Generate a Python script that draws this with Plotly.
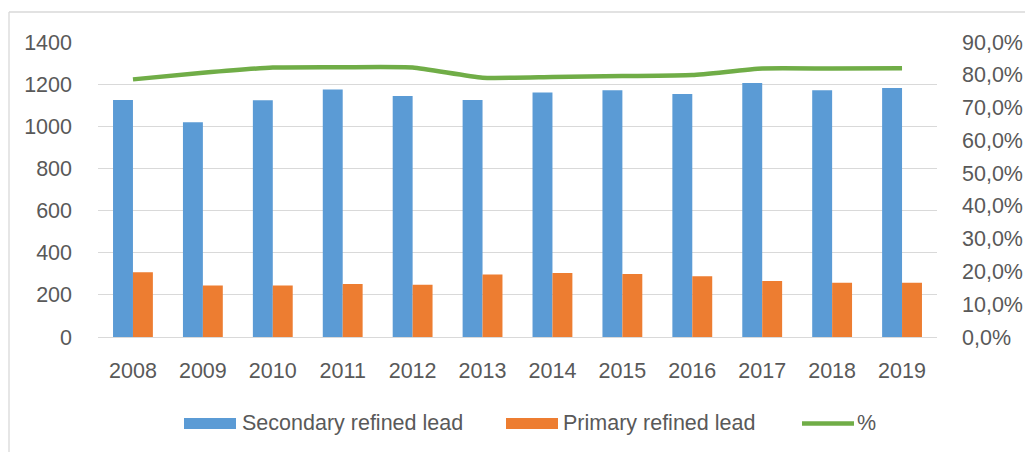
import plotly.graph_objects as go

years = ["2008", "2009", "2010", "2011", "2012", "2013",
         "2014", "2015", "2016", "2017", "2018", "2019"]
secondary = [1125, 1019, 1123, 1174, 1144, 1125, 1160, 1171, 1153, 1205, 1171, 1182]
primary = [307, 245, 244, 252, 248, 297, 304, 299, 288, 266, 258, 258]
share = [0.786, 0.806, 0.822, 0.823, 0.822, 0.791, 0.793, 0.796, 0.799, 0.819, 0.819, 0.820]

left_ticks = [0, 200, 400, 600, 800, 1000, 1200, 1400]
right_ticks = [0.0, 0.1, 0.2, 0.3, 0.4, 0.5, 0.6, 0.7, 0.8, 0.9]

BLUE = "#5B9BD5"
ORANGE = "#ED7D31"
GREEN = "#70AD47"
GRID = "#D9D9D9"
TXT = "#595959"
FONT = "Liberation Sans, Arial, sans-serif"
FS = 21.5

W, H = 1025, 452
L, R, T, B = 98, 88, 42, 115
PW, PH = W - L - R, H - T - B


def px(x):
    return (x - L) / PW


def py(y):
    return (H - B - y) / PH


fig = go.Figure()
fig.add_trace(go.Bar(x=years, y=secondary, name="Secondary refined lead",
                     marker=dict(color=BLUE, line=dict(width=0))))
fig.add_trace(go.Bar(x=years, y=primary, name="Primary refined lead",
                     marker=dict(color=ORANGE, line=dict(width=0))))
fig.add_trace(go.Scatter(x=years, y=share, name="%", yaxis="y2", mode="lines",
                         line=dict(color=GREEN, width=4.5, shape="spline", smoothing=0.5)))

shapes = [
    # chart area border (top and left visible)
    dict(type="line", xref="paper", yref="paper", x0=px(9), x1=px(W + 5), y0=py(12), y1=py(12),
         line=dict(color=GRID, width=1.3)),
    dict(type="line", xref="paper", yref="paper", x0=px(9), x1=px(9), y0=py(12), y1=py(H + 5),
         line=dict(color=GRID, width=1.3)),
    # legend swatches
    dict(type="rect", xref="paper", yref="paper", x0=px(184), x1=px(236), y0=py(429), y1=py(418),
         fillcolor=BLUE, line=dict(width=0)),
    dict(type="rect", xref="paper", yref="paper", x0=px(506), x1=px(558), y0=py(429), y1=py(418),
         fillcolor=ORANGE, line=dict(width=0)),
    dict(type="line", xref="paper", yref="paper", x0=px(802), x1=px(854), y0=py(423.5), y1=py(423.5),
         line=dict(color=GREEN, width=4.5)),
]

annotations = [
    dict(text="Secondary refined lead", xref="paper", yref="paper", x=px(240), y=py(423),
         xanchor="left", yanchor="middle", showarrow=False, font=dict(family=FONT, size=FS, color=TXT)),
    dict(text="Primary refined lead", xref="paper", yref="paper", x=px(561), y=py(423),
         xanchor="left", yanchor="middle", showarrow=False, font=dict(family=FONT, size=FS, color=TXT)),
    dict(text="%", xref="paper", yref="paper", x=px(855), y=py(423),
         xanchor="left", yanchor="middle", showarrow=False, font=dict(family=FONT, size=FS, color=TXT)),
]

fig.update_layout(
    width=W, height=H,
    margin=dict(l=L, r=R, t=T, b=B, pad=0, autoexpand=False),
    paper_bgcolor="white", plot_bgcolor="white",
    separators=", ",
    barmode="group", bargap=0.43, bargroupgap=0,
    showlegend=False,
    font=dict(family=FONT, size=FS, color=TXT),
    xaxis=dict(type="category", showgrid=False, showline=False, ticks="", automargin=False,
               ticklabelstandoff=18, tickfont=dict(family=FONT, size=FS, color=TXT)),
    yaxis=dict(range=[0, 1400], tickvals=left_ticks, tickformat="d", showgrid=True, automargin=False,
               gridcolor=GRID, gridwidth=1.3, zeroline=True, zerolinecolor=GRID, zerolinewidth=1.3,
               showline=False, ticks="", ticklabelstandoff=25,
               tickfont=dict(family=FONT, size=FS, color=TXT)),
    yaxis2=dict(range=[0, 0.9], tickvals=right_ticks, tickformat=".1%", overlaying="y", side="right",
                showgrid=False, zeroline=False, showline=False, ticks="", ticklabelstandoff=24,
                automargin=False, tickfont=dict(family=FONT, size=FS, color=TXT)),
    shapes=shapes,
    annotations=annotations,
)

fig.write_html("out.html", config={"displayModeBar": False},
               post_script="document.body.style.margin='0';document.body.style.padding='0';"
                           "document.body.style.overflow='hidden';")
